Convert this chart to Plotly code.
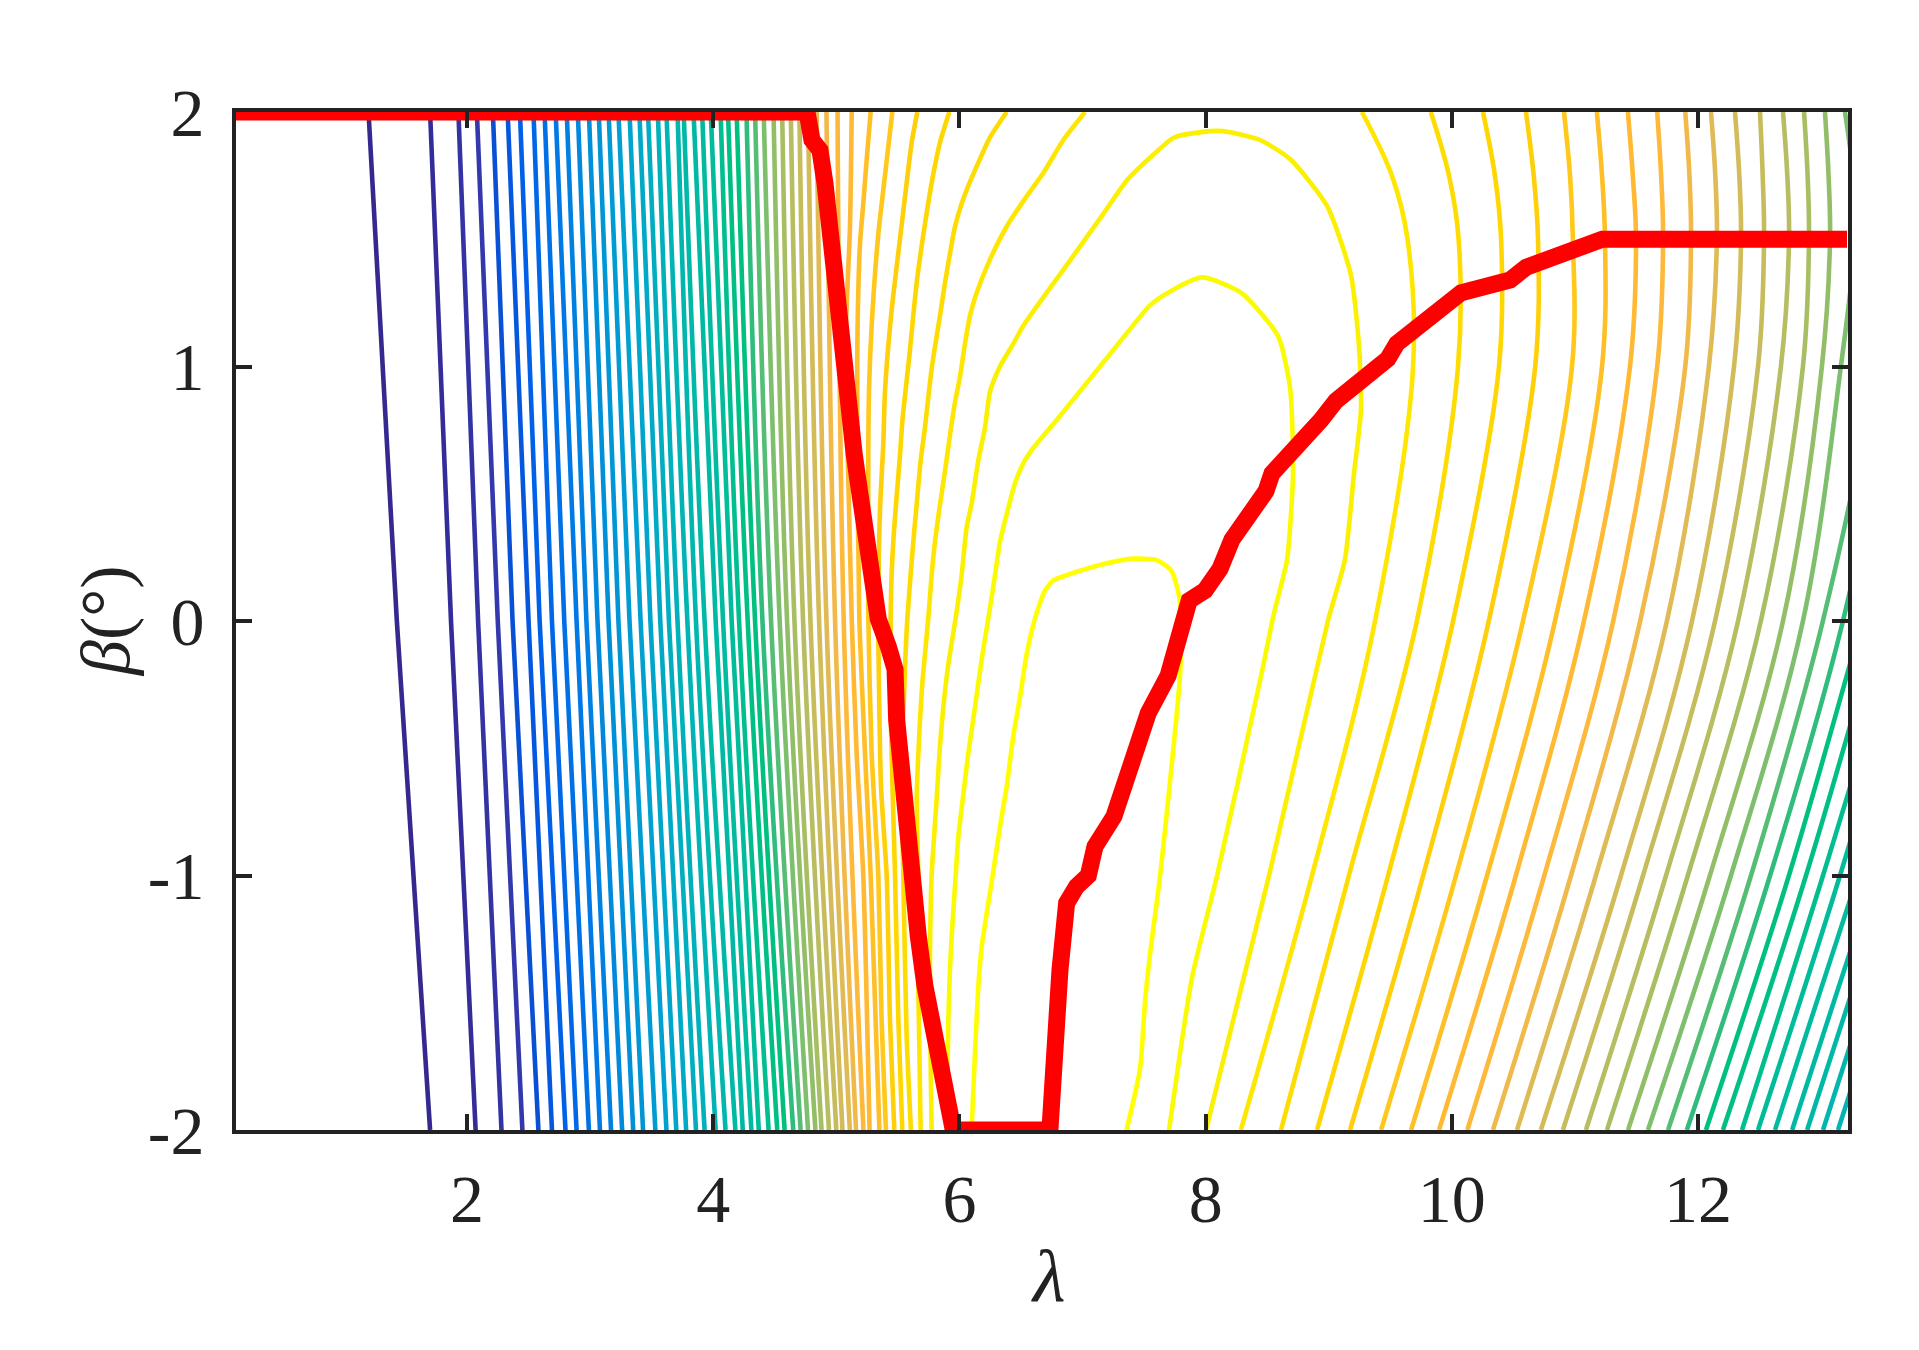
import plotly.graph_objects as go
from plotly.colors import hex_to_rgb

# ---- contour lines on the left flank, levels 1..40, read at three beta values
BETA_LEFT = [2, 0, -2]
LEFT_TOP = [1.20,1.70,1.93,2.08,2.21,2.33,2.43,2.54,2.63,2.72,2.81,2.90,2.99,3.07,3.15,3.23,3.32,3.40,3.47,3.55,
            3.62,3.71,3.76,3.84,3.91,3.98,4.06,4.12,4.19,4.27,4.34,4.41,4.49,4.56,4.63,4.70,4.77,4.84,4.92,5.01]
LEFT_MID = [1.43,1.87,2.09,2.25,2.37,2.50,2.59,2.69,2.79,2.89,2.97,3.06,3.15,3.23,3.32,3.41,3.49,3.57,3.64,3.71,
            3.79,3.86,3.93,4.02,4.08,4.15,4.21,4.28,4.34,4.40,4.47,4.54,4.60,4.66,4.73,4.79,4.86,4.92,4.99,5.06]
LEFT_BOT = [1.70,2.07,2.28,2.45,2.58,2.69,2.80,2.89,2.99,3.08,3.17,3.26,3.35,3.43,3.53,3.62,3.70,3.78,3.86,3.93,
            4.02,4.10,4.18,4.24,4.31,4.37,4.45,4.52,4.58,4.65,4.71,4.77,4.83,4.88,4.94,5.00,5.05,5.11,5.16,5.22]

# ---- left arms of levels 41..47
J_LAM = [5.125, 5.111, 5.070, 5.097, 5.125, 5.165, 5.219, 5.27]
J_BETA = [2, 1.55, 1.04, 0.57, 0.01, -0.52, -1, -2]
I_LAM = [5.279, 5.246, 5.219, 5.192, 5.171, 5.171, 5.187, 5.233, 5.279, 5.35]
I_BETA = [2, 1.81, 1.64, 1.48, 1.09, 0.70, 0.01, -0.52, -1, -2]
H_LAM = [5.455, 5.395, 5.341, 5.287, 5.265, 5.260, 5.260, 5.287, 5.341, 5.368, 5.403]
H_BETA = [2, 1.75, 1.52, 1.16, 0.90, 0.70, 0.01, -0.52, -1, -1.57, -2]
G_LAM = [5.658, 5.612, 5.571, 5.512, 5.449, 5.395, 5.382, 5.355, 5.341, 5.363, 5.409, 5.436, 5.471]
G_BETA = [2, 1.88, 1.72, 1.48, 1.22, 0.90, 0.70, 0.44, 0.01, -0.65, -1, -1.57, -2]
F_LAM = [5.918, 5.842, 5.774, 5.720, 5.680, 5.653, 5.625, 5.593, 5.539, 5.517, 5.495, 5.468, 5.449, 5.441, 5.441, 5.477, 5.504, 5.536]
F_BETA = [2, 1.88, 1.72, 1.56, 1.43, 1.33, 1.20, 1.04, 0.80, 0.65, 0.52, 0.35, 0.18, 0.01, -0.36, -1, -1.57, -2]
E_LAM = [6.384, 6.248, 6.153, 6.072, 6.018, 5.964, 5.929, 5.883, 5.842, 5.774, 5.720, 5.685, 5.653, 5.625, 5.577, 5.552, 5.531, 5.544, 5.571, 5.606]
E_BETA = [2, 1.90, 1.80, 1.71, 1.64, 1.55, 1.46, 1.33, 1.20, 0.99, 0.76, 0.63, 0.46, 0.31, 0.01, -0.26, -0.65, -1, -1.63, -2]
D_LAM = [7.020, 6.844, 6.681, 6.519, 6.384, 6.248, 6.140, 6.086, 6.045, 6.005, 5.964, 5.923, 5.883, 5.837, 5.801, 5.774, 5.747, 5.701, 5.680, 5.653, 5.666, 5.666, 5.685]
D_BETA = [2, 1.89, 1.76, 1.65, 1.55, 1.42, 1.29, 1.20, 1.09, 0.96, 0.86, 0.73, 0.59, 0.44, 0.31, 0.18, 0.01, -0.23, -0.39, -0.70, -1, -1.44, -2]

# ---- closed arches, levels 48..50
C_LAM = [5.774,5.761,5.761,5.774,5.815,5.842,5.869,5.910,5.969,6.018,6.059,6.099,6.153,6.208,6.248,6.329,6.438,6.519,6.709,6.844,7.169,7.358,7.548,7.743,7.95,8.142,8.442,8.686,8.987,9.180,9.245,9.262,9.205,9.131,8.993,8.515,8.003]
C_BETA = [-2,-1.57,-1.31,-1,-0.70,-0.49,-0.34,-0.17,0.01,0.18,0.37,0.46,0.63,0.76,0.90,1.0,1.09,1.16,1.29,1.38,1.60,1.73,1.82,1.90,1.92,1.925,1.89,1.815,1.63,1.36,1.085,0.83,0.58,0.24,0,-1,-2]
B_LAM = [5.896,5.910,5.923,5.937,5.964,5.991,6.032,6.072,6.126,6.181,6.235,6.289,6.329,6.384,6.451,6.519,6.600,6.790,7.142,7.358,7.548,7.694,7.970,8.287,8.588,8.686,8.710,8.661,8.555,8.457,8.093,7.890,7.703]
B_BETA = [-2,-1.57,-1.37,-1.24,-1.04,-0.85,-0.68,-0.52,-0.34,-0.15,0.01,0.18,0.31,0.42,0.54,0.62,0.68,0.79,1.0,1.13,1.24,1.29,1.35,1.29,1.12,0.916,0.58,0.24,0.03,-0.2,-1,-1.4,-2]
A_LAM = [6.099,6.126,6.153,6.181,6.221,6.270,6.329,6.384,6.438,6.492,6.546,6.614,6.654,6.695,6.763,6.871,7.142,7.385,7.597,7.719,7.784,7.800,7.792,7.630,7.548,7.507,7.467,7.358]
A_BETA = [-2,-1.70,-1.44,-1.28,-1.15,-1,-0.81,-0.65,-0.45,-0.30,-0.13,0.01,0.07,0.12,0.16,0.18,0.22,0.244,0.24,0.20,0.10,-0.015,-0.215,-1,-1.31,-1.5,-1.76,-2]

# ---- right flank, read at seven beta values (values above 13.2 lie past the frame)
BETA_RIGHT = [2, 1.75, 1.5, 1, 0, -1, -2]
RIGHT_47 = [9.269, 9.513, 9.640, 9.685, 9.376, 8.864, 8.286]
RIGHT_46 = [9.829, 9.977, 10.055, 10.050, 9.716, 9.164, 8.612]
RIGHT_45 = [10.253, 10.350, 10.400, 10.383, 10.010, 9.482, 8.905]
RIGHT_44 = [10.602, 10.665, 10.700, 10.677, 10.300, 9.767, 9.173]
RIGHT_43 = [10.911, 10.960, 10.983, 10.976, 10.578, 10.034, 9.425]
RIGHT_42 = [11.178, 11.220, 11.244, 11.220, 10.838, 10.286, 9.669]
RIGHT_41 = [11.430, 11.470, 11.496, 11.447, 11.073, 10.520, 9.896]
RIGHT_40 = [11.668, 11.700, 11.716, 11.668, 11.311, 10.751, 10.126]
RIGHT_39 = [11.896, 11.930, 11.943, 11.896, 11.530, 10.968, 10.334]
RIGHT_38 = [12.105, 12.140, 12.153, 12.088, 11.747, 11.170, 10.529]
RIGHT_37 = [12.300, 12.335, 12.349, 12.292, 11.951, 11.374, 10.723]
RIGHT_36 = [12.503, 12.525, 12.536, 12.487, 12.138, 11.553, 10.902]
RIGHT_35 = [12.690, 12.725, 12.739, 12.673, 12.325, 11.740, 11.089]
RIGHT_34 = [12.861, 12.890, 12.901, 12.852, 12.510, 11.917, 11.260]
RIGHT_33 = [13.031, 13.060, 13.072, 13.006, 12.690, 12.096, 11.431]
RIGHT_32 = [13.193, 13.260, 13.274, 13.160, 12.852, 12.267, 11.593]
RIGHT_31 = [13.600, 13.580, 13.558, 13.437, 13.014, 12.430, 11.756]
# lower lines that leave through the right edge: beta = 1, 0, -1, -2
BETA_EXIT = [1, 0, -1, -2]
RIGHT_30 = [13.60, 13.177, 12.585, 11.909]
# beta = 0, -1, -2
BETA_EXIT2 = [0, -1, -2]
RIGHT_29 = [13.332, 12.738, 12.064]
RIGHT_28 = [13.477, 12.877, 12.202]
RIGHT_27 = [13.640, 13.015, 12.357]
RIGHT_26 = [13.760, 13.153, 12.487]
# beta = -1, -2
BETA_EXIT3 = [-1, -2]
RIGHT_25 = [13.299, 12.625]
RIGHT_24 = [13.437, 12.764]
RIGHT_23 = [13.558, 12.886]
RIGHT_22 = [13.680, 13.015]
RIGHT_21 = [13.800, 13.137]

# ---- optimal-operation path (red)
RED_LAM = [0.12,4.762,4.802,4.867,4.908,4.949,5.063,5.144,5.171,5.219,5.287,5.341,5.422,5.477,5.490,5.531,5.571,5.625,5.666,5.720,5.788,5.856,5.896,5.937,5.95,
           6.735,6.763,6.817,6.871,6.952,7.047,7.101,7.255,7.372,7.440,7.534,7.695,7.866,7.995,8.117,8.214,8.287,8.490,8.539,8.783,8.937,
           9.059,9.286,9.480,9.553,10.076,10.474,10.604,11.222,13.21]
RED_BETA = [2,2,1.89,1.85,1.72,1.51,1.085,0.66,0.568,0.371,0.175,0.007,-0.10,-0.19,-0.388,-0.624,-0.807,-1.043,-1.239,-1.435,-1.632,-1.763,-1.907,-1.985,-2,
            -2,-1.697,-1.37,-1.108,-1.043,-1.0,-0.886,-0.768,-0.61,-0.49,-0.362,-0.215,0.08,0.12,0.205,0.32,0.37,0.51,0.58,0.70,0.79,
            0.865,0.95,1.03,1.09,1.29,1.34,1.39,1.50,1.50]

X_TICKS = [2, 4, 6, 8, 10, 12]
Y_TICKS = [-2, -1, 0, 1, 2]
Y_TICK_LABELS = ["-2", "-1", "0", "1", "2"]
X_TITLE = "<i>λ</i>"
Y_TITLE = "<i>β</i>(°)"

# ---- style
INK = "#222222"
RED = "#ff0000"
COLOR_STOPS = [(1, "#35288f"), (4, "#3338ad"), (5, "#0a50d5"), (7, "#0060e8"), (10, "#0078e5"), (13, "#0090d8"),
               (16, "#00a0d0"), (19, "#00aec0"), (23, "#00b8a8"), (26, "#00bc9b"), (28, "#00bf85"), (29, "#00c07f"),
               (30, "#2fbd7d"), (32, "#7dbf6c"), (34, "#a8be63"), (36, "#c6bc5c"), (38, "#dfba55"), (39, "#f0b94a"),
               (40, "#fcb93c"), (41, "#ffb933"), (42, "#ffbf27"), (43, "#ffc81a"), (44, "#ffcf0a"), (45, "#ffd700"),
               (46, "#ffdc00"), (47, "#ffe600"), (48, "#fbf000"), (49, "#fafa00"), (50, "#ffff00")]


def level_color(level):
    for (l0, c0), (l1, c1) in zip(COLOR_STOPS, COLOR_STOPS[1:]):
        if l0 <= level <= l1:
            t = (level - l0) / (l1 - l0)
            a, b = hex_to_rgb(c0), hex_to_rgb(c1)
            return "rgb(%d,%d,%d)" % tuple(round(p + (q - p) * t) for p, q in zip(a, b))
    return COLOR_STOPS[-1][1]


fig = go.Figure()


def add_contour(level, lam, beta, smoothing=1.0):
    fig.add_trace(go.Scatter(x=lam, y=beta, mode="lines", showlegend=False, hoverinfo="skip",
                             line=dict(color=level_color(level), width=4.6, shape="spline", smoothing=smoothing)))


for i in range(len(LEFT_TOP)):
    add_contour(i + 1, [LEFT_TOP[i], LEFT_MID[i], LEFT_BOT[i]], BETA_LEFT)
for level, lam, beta in [(41, J_LAM, J_BETA), (42, I_LAM, I_BETA), (43, H_LAM, H_BETA), (44, G_LAM, G_BETA),
                         (45, F_LAM, F_BETA), (46, E_LAM, E_BETA), (47, D_LAM, D_BETA), (48, C_LAM, C_BETA),
                         (49, B_LAM, B_BETA), (50, A_LAM, A_BETA)]:
    add_contour(level, lam, beta, smoothing=0.6)
for level, lam in [(47, RIGHT_47), (46, RIGHT_46), (45, RIGHT_45), (44, RIGHT_44), (43, RIGHT_43), (42, RIGHT_42),
                   (41, RIGHT_41), (40, RIGHT_40), (39, RIGHT_39), (38, RIGHT_38), (37, RIGHT_37), (36, RIGHT_36),
                   (35, RIGHT_35), (34, RIGHT_34), (33, RIGHT_33), (32, RIGHT_32), (31, RIGHT_31)]:
    add_contour(level, lam, BETA_RIGHT)
add_contour(30, RIGHT_30, BETA_EXIT)
for level, lam in [(29, RIGHT_29), (28, RIGHT_28), (27, RIGHT_27), (26, RIGHT_26)]:
    add_contour(level, lam, BETA_EXIT2)
for level, lam in [(25, RIGHT_25), (24, RIGHT_24), (23, RIGHT_23), (22, RIGHT_22), (21, RIGHT_21)]:
    add_contour(level, lam, BETA_EXIT3)

fig.add_trace(go.Scatter(x=RED_LAM, y=RED_BETA, mode="lines", showlegend=False, hoverinfo="skip", cliponaxis=False,
                         line=dict(color=RED, width=17, shape="linear")))

AXIS = dict(showgrid=False, zeroline=False, showline=True, linecolor=INK, linewidth=4, mirror="ticks",
            ticks="inside", ticklen=16, tickwidth=4, tickcolor=INK,
            tickfont=dict(family="Liberation Serif", size=68, color=INK))

fig.update_layout(
    width=1919, height=1350, autosize=False,
    margin=dict(l=228, r=79, t=104, b=228, pad=0),
    paper_bgcolor="white", plot_bgcolor="white", showlegend=False,
    xaxis=dict(range=[0.1235, 13.218], tickmode="array", tickvals=X_TICKS, ticktext=[str(v) for v in X_TICKS],
               ticklabelstandoff=6, **AXIS),
    yaxis=dict(range=[-2, 2], tickmode="array", tickvals=Y_TICKS, ticktext=Y_TICK_LABELS,
               ticklabelstandoff=14, **AXIS),
    annotations=[
        dict(text=X_TITLE, xref="paper", yref="paper", x=0.504, y=-0.143, xanchor="center", yanchor="middle",
             showarrow=False, font=dict(family="Liberation Serif", size=75, color=INK)),
        dict(text=Y_TITLE, xref="paper", yref="paper", x=-0.0813, y=0.5, xanchor="center", yanchor="middle",
             textangle=-90, showarrow=False, font=dict(family="Liberation Serif", size=70, color=INK)),
    ],
)

fig.write_html("out.html")
